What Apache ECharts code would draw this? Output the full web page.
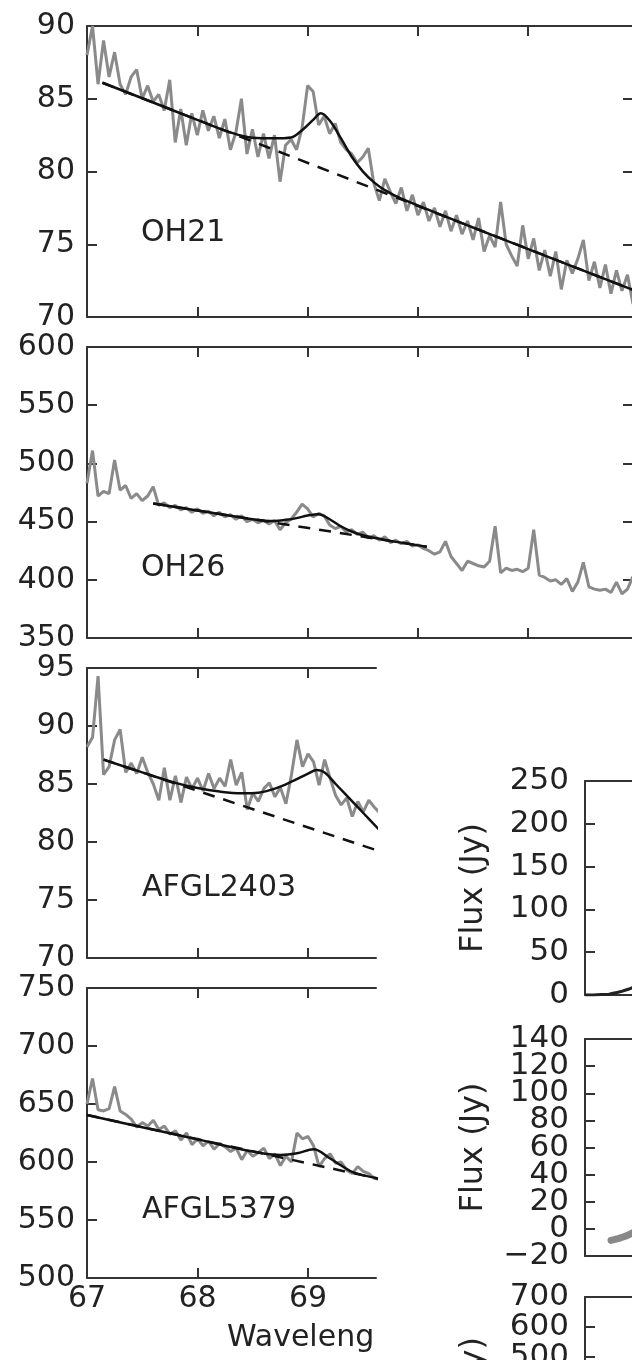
<!DOCTYPE html>
<html><head><meta charset="utf-8">
<script src="https://cdn.jsdelivr.net/npm/echarts@6/dist/echarts.min.js"></script>
<style>html,body{margin:0;padding:0;background:#fff;width:632px;height:1360px;overflow:hidden}#c{width:1100px;height:1600px}</style>
</head><body><div id="c"></div>
<script>
// ---------- data ----------
const wlLong = [67.00,67.05,67.10,67.15,67.20,67.25,67.30,67.35,67.40,67.45,
  67.50,67.55,67.60,67.65,67.70,67.75,67.80,67.85,67.90,67.95,
  68.00,68.05,68.10,68.15,68.20,68.25,68.30,68.35,68.40,68.45,
  68.50,68.55,68.60,68.65,68.70,68.75,68.80,68.85,68.90,68.95,
  69.00,69.05,69.10,69.15,69.20,69.25,69.30,69.35,69.40,69.45,
  69.50,69.55,69.60,69.65,69.70,69.75,69.80,69.85,69.90,69.95,
  70.00,70.05,70.10,70.15,70.20,70.25,70.30,70.35,70.40,70.45,
  70.50,70.55,70.60,70.65,70.70,70.75,70.80,70.85,70.90,70.95,
  71.00,71.05,71.10,71.15,71.20,71.25,71.30,71.35,71.40,71.45,
  71.50,71.55,71.60,71.65,71.70,71.75,71.80,71.85,71.90,71.95];
const wlShort = [67.00,67.05,67.10,67.15,67.20,67.25,67.30,67.35,67.40,67.45,
  67.50,67.55,67.60,67.65,67.70,67.75,67.80,67.85,67.90,67.95,
  68.00,68.05,68.10,68.15,68.20,68.25,68.30,68.35,68.40,68.45,
  68.50,68.55,68.60,68.65,68.70,68.75,68.80,68.85,68.90,68.95,
  69.00,69.05,69.10,69.15,69.20,69.25,69.30,69.35,69.40,69.45,
  69.50,69.55,69.60,69.65];

const oh21Flux = [88.0,90.0,86.0,89.0,86.5,88.2,86.0,85.3,86.5,87.0,
  85.0,85.9,84.8,85.3,84.2,86.3,82.0,84.3,81.8,84.0,
  82.5,84.2,82.8,83.8,82.3,83.6,81.5,82.7,85.0,81.2,
  82.9,81.0,82.6,80.9,82.5,79.3,81.8,82.2,81.5,83.0,
  85.9,85.5,83.2,83.8,82.6,83.3,82.0,81.5,81.2,80.6,
  81.0,81.6,79.2,78.0,79.5,78.6,77.8,78.9,77.3,78.4,
  77.0,77.9,76.6,77.5,76.2,77.3,75.9,77.0,75.7,76.6,
  75.3,76.8,74.5,75.6,74.8,77.9,75.0,74.2,73.5,76.3,
  74.0,75.4,73.2,74.6,72.8,74.5,71.9,73.9,73.0,74.0,
  75.3,72.5,73.8,72.0,73.6,71.6,73.2,71.8,72.9,70.9];
const oh21FitX = [67.14,67.6,68.0,68.3,68.5,68.7,68.85,68.95,69.05,69.12,69.2,69.3,69.4,69.5,69.6,69.7,69.85,70.5,71.0,71.95];
const oh21FitY = [86.1,84.74,83.55,82.69,82.32,82.28,82.34,82.84,83.55,84.0,83.5,82.31,81.01,80.01,79.27,78.72,78.13,76.15,74.67,71.86];
const oh21BaseX = [67.14,71.95];
const oh21BaseY = [86.1,71.86];

const oh26Flux = [483,511,472,476,474,503,477,481,470,474,
  468,472,480,464,466,462,464,460,462,458,
  461,457,459,455,458,454,456,452,455,450,
  452,449,451,448,451,443,449,452,458,465,
  461,454,457,455,447,444,446,441,443,439,
  441,436,438,434,437,432,434,431,433,429,
  430,427,425,422,424,433,420,414,408,416,
  414,412,411,416,446,406,410,408,409,407,
  410,443,404,402,399,400,396,401,390,398,
  415,394,392,391,392,389,398,388,392,403];
const oh26FitX = [67.6,68.0,68.5,68.7,68.8,68.9,69.0,69.1,69.2,69.3,69.4,69.5,69.7,70.08];
const oh26FitY = [465.6,459.6,452.1,450.5,451.5,453.0,455.2,456.4,452.0,446.0,441.5,438.2,434.3,428.4];
const oh26BaseX = [67.6,70.08];
const oh26BaseY = [465.6,428.4];

const afgl2403Flux = [88.2,89.0,94.3,85.8,86.5,88.8,89.7,86.0,86.8,85.9,
  87.3,86.0,85.0,83.6,86.4,83.6,85.7,83.4,85.6,84.6,
  85.5,84.4,85.9,84.6,85.5,84.8,87.1,84.9,86.0,82.8,
  84.2,83.5,84.6,85.1,83.9,84.7,83.3,85.8,88.8,86.5,
  87.6,86.9,84.9,87.1,85.5,84.0,83.2,83.8,82.2,83.5,
  82.6,83.6,83.0,82.5];
const afgl2403FitX = [67.15,67.5,67.8,68.0,68.2,68.4,68.55,68.7,68.85,69.0,69.08,69.15,69.25,69.4,69.5,69.65];
const afgl2403FitY = [87.1,86.0,85.1,84.65,84.35,84.2,84.25,84.6,85.2,85.9,86.2,86.0,85.0,83.5,82.5,81.0];
const afgl2403BaseX = [67.15,69.65];
const afgl2403BaseY = [87.1,79.2];

const afgl5379Flux = [650,672,645,644,646,665,644,641,637,630,
  634,631,636,628,631,624,627,619,625,615,
  620,614,618,611,616,613,609,612,602,610,
  605,608,612,603,607,597,605,600,625,620,
  622,614,596,603,607,599,600,593,590,596,
  592,590,586,585];
const afgl5379FitX = [67.0,67.5,68.0,68.5,68.75,68.9,69.05,69.2,69.3,69.41,69.65];
const afgl5379FitY = [640.5,630,619.5,609,606,607.5,611,603,597,591,585.5];
const afgl5379BaseX = [67.0,69.65];
const afgl5379BaseY = [640.5,585.3];

// right-hand (cropped) figure
const panelAX = [0,2,4,6,7,8,9,10,11,12,13];
const panelAY = [0,0,0.5,1,2,3,4,5.5,7,9,11];
const panelBX = [6.5,7.5,8.5,9.5,10.5,11.5,12.5];
const panelBY = [-8.5,-7.8,-7,-6,-5,-3.5,-2];
const panelBLabelsA = [-20,20,60,100,140];
const panelBLabelsB = [0,40,80,120];
const panelCLabelsA = [0,200,400,600];
const panelCLabelsB = [100,300,500,700];

const sourceNames = ['OH21','OH26','AFGL2403','AFGL5379'];
const xTicksLong = [67,68,69,70,71];
const xTicksShort = [67,68,69];
const xLabelText = 'Waveleng';
const fluxLabel = 'Flux (Jy)';

// ---------- styling ----------
const FONT = 'DejaVu Sans';
const AX = '#333';
const TXT = '#222';
const zip = (xs, ys) => xs.map((x, i) => [x, ys[i]]);
const fmt = v => (v < 0 ? '\u2212' + Math.abs(v) : String(v));

const grids = [
  {left: 87, top: 26, width: 546, height: 291},
  {left: 87, top: 347, width: 546, height: 291},
  {left: 87, top: 668, width: 289, height: 290},
  {left: 87, top: 988, width: 289, height: 290},
  {left: 585, top: 781, width: 400, height: 214},
  {left: 585, top: 1039, width: 400, height: 217},
  {left: 585, top: 1297, width: 400, height: 210}
];

const lineAx = {show: true, onZero: false, lineStyle: {color: AX, width: 2}};
function xAx(g, pos, min, max, ticks, showLabel) {
  return {
    type: 'value', gridIndex: g, position: pos, min: min, max: max,
    axisLine: lineAx,
    axisTick: ticks ? {show: true, inside: true, length: 10, customValues: ticks, lineStyle: {color: AX, width: 2}} : {show: false},
    axisLabel: showLabel ? {show: true, customValues: ticks, fontSize: 30, fontFamily: FONT, color: TXT, margin: 6} : {show: false},
    splitLine: {show: false}
  };
}
function yAx(g, pos, min, max, interval, showLabel, labelSize, margin, name, labelValues) {
  const lab = showLabel ? {show: true, fontSize: labelSize, fontFamily: FONT, color: TXT, margin: margin, formatter: fmt} : {show: false};
  if (labelValues) lab.customValues = labelValues;
  const a = {
    type: 'value', gridIndex: g, position: pos, min: min, max: max, interval: interval,
    axisLine: lineAx,
    axisTick: {show: true, inside: true, length: 10, lineStyle: {color: AX, width: 2}},
    axisLabel: lab,
    splitLine: {show: false}
  };
  if (name) {
    a.name = name; a.nameLocation = 'middle'; a.nameGap = 95;
    a.nameTextStyle = {fontSize: 32, fontFamily: FONT, color: TXT};
  }
  return a;
}
// extra label-only axis laid over the left edge of a grid (for densely packed labels)
function overlayAx(g, min, max, labelValues, width) {
  return {
    type: 'value', gridIndex: g, position: 'right', offset: -width, min: min, max: max,
    axisLine: {show: false}, axisTick: {show: false}, splitLine: {show: false},
    axisLabel: {show: true, inside: true, customValues: labelValues, fontSize: 31, fontFamily: FONT, color: TXT, margin: 16, formatter: fmt}
  };
}

const xAxis = [
  xAx(0, 'bottom', 67, 71.95, xTicksLong, false), xAx(0, 'top', 67, 71.95, xTicksLong, false),
  xAx(1, 'bottom', 67, 71.95, xTicksLong, false), xAx(1, 'top', 67, 71.95, xTicksLong, false),
  xAx(2, 'bottom', 67, 69.615, xTicksShort, false), xAx(2, 'top', 67, 69.615, xTicksShort, false),
  xAx(3, 'bottom', 67, 69.615, xTicksShort, true), xAx(3, 'top', 67, 69.615, xTicksShort, false),
  xAx(4, 'bottom', 0, 100, null, false), xAx(4, 'top', 0, 100, null, false),
  xAx(5, 'bottom', 0, 100, null, false), xAx(5, 'top', 0, 100, null, false),
  xAx(6, 'bottom', 0, 100, null, false), xAx(6, 'top', 0, 100, null, false)
];
const yAxis = [
  yAx(0, 'left', 70, 90, 5, true, 30, 12), yAx(0, 'right', 70, 90, 5, false),
  yAx(1, 'left', 350, 600, 50, true, 30, 12), yAx(1, 'right', 350, 600, 50, false),
  yAx(2, 'left', 70, 95, 5, true, 30, 12),
  yAx(3, 'left', 500, 750, 50, true, 30, 12),
  yAx(4, 'left', 0, 250, 50, true, 31, 16, fluxLabel),
  yAx(5, 'left', -20, 140, 20, true, 31, 16, fluxLabel, panelBLabelsA),
  yAx(6, 'left', 0, 700, 100, true, 31, 16, fluxLabel, panelCLabelsA),
  overlayAx(5, -20, 140, panelBLabelsB, 400),
  overlayAx(6, 0, 700, panelCLabelsB, 400)
];

function spectrum(xi, yi, xs, ys) {
  return {type: 'line', xAxisIndex: xi, yAxisIndex: yi, data: zip(xs, ys), symbol: 'none', showSymbol: false,
    clip: true, z: 2, lineStyle: {color: '#8a8a8a', width: 3}};
}
function fit(xi, yi, xs, ys) {
  return {type: 'line', xAxisIndex: xi, yAxisIndex: yi, data: zip(xs, ys), symbol: 'none', showSymbol: false,
    clip: true, smooth: 0.35, z: 3, lineStyle: {color: '#111', width: 2.5}};
}
function base(xi, yi, xs, ys) {
  return {type: 'line', xAxisIndex: xi, yAxisIndex: yi, data: zip(xs, ys), symbol: 'none', showSymbol: false,
    clip: true, z: 3, lineStyle: {color: '#111', width: 2.5, type: [12, 9]}};
}

const series = [
  spectrum(0, 0, wlLong, oh21Flux), base(0, 0, oh21BaseX, oh21BaseY), fit(0, 0, oh21FitX, oh21FitY),
  spectrum(2, 2, wlLong, oh26Flux), base(2, 2, oh26BaseX, oh26BaseY), fit(2, 2, oh26FitX, oh26FitY),
  spectrum(4, 4, wlShort, afgl2403Flux), base(4, 4, afgl2403BaseX, afgl2403BaseY), fit(4, 4, afgl2403FitX, afgl2403FitY),
  spectrum(6, 5, wlShort, afgl5379Flux), base(6, 5, afgl5379BaseX, afgl5379BaseY), fit(6, 5, afgl5379FitX, afgl5379FitY),
  {type: 'line', xAxisIndex: 8, yAxisIndex: 6, data: zip(panelAX, panelAY), symbol: 'none', clip: true,
    lineStyle: {color: '#222', width: 3}},
  {type: 'line', xAxisIndex: 10, yAxisIndex: 7, data: zip(panelBX, panelBY), symbol: 'none', clip: true,
    lineStyle: {color: '#888', width: 7, cap: 'round'}}
];

const labelPos = [[141, 233], [141, 568], [142, 888], [142, 1210]];
const graphic = sourceNames.map((n, i) => ({
  type: 'text', x: labelPos[i][0], y: labelPos[i][1], z: 10,
  style: {text: n, fontSize: 30, fontFamily: FONT, fill: TXT, verticalAlign: 'middle', textVerticalAlign: 'middle'}
}));
graphic.push({type: 'text', x: 227, y: 1338, z: 10,
  style: {text: xLabelText, fontSize: 30, fontFamily: FONT, fill: TXT, verticalAlign: 'middle', textVerticalAlign: 'middle'}});

const chart = echarts.init(document.getElementById('c'), null, {renderer: 'canvas'});
chart.setOption({
  animation: false,
  backgroundColor: '#fff',
  textStyle: {fontFamily: FONT},
  grid: grids,
  xAxis: xAxis,
  yAxis: yAxis,
  series: series,
  graphic: graphic
});
</script></body></html>
